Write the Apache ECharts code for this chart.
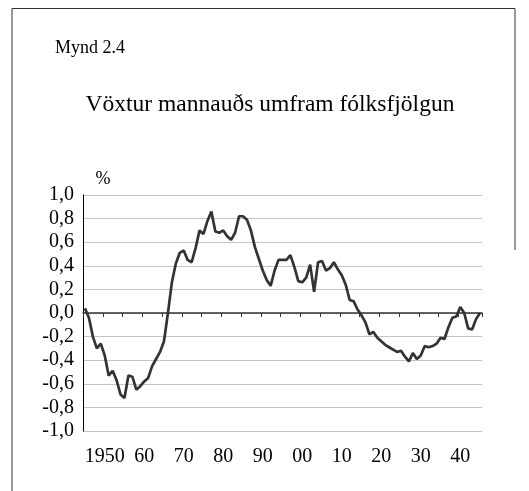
<!DOCTYPE html>
<html><head><meta charset="utf-8">
<script src="https://cdn.jsdelivr.net/npm/echarts@6/dist/echarts.min.js"></script>
<style>html,body{margin:0;padding:0;background:#fff}#c{width:529px;height:491px}</style>
</head><body><div id="c"></div>
<script>
// categories: years 1945 - 2045
const years = [];
for (let y = 1945; y <= 2045; y++) years.push(String(y));

// growth of human capital in excess of population growth, %
const values = [
  0.04, -0.04, -0.20, -0.30, -0.26,            // 1945-1949
  -0.36, -0.53, -0.49, -0.57, -0.69,           // 1950-1954
  -0.72, -0.53, -0.54, -0.65, -0.62,           // 1955-1959
  -0.58, -0.55, -0.45, -0.39, -0.33,           // 1960-1964
  -0.24, 0.00, 0.26, 0.42, 0.51,               // 1965-1969
  0.53, 0.45, 0.43, 0.55, 0.70,                // 1970-1974
  0.67, 0.78, 0.86, 0.69, 0.68,                // 1975-1979
  0.70, 0.65, 0.62, 0.68, 0.82,                // 1980-1984
  0.82, 0.79, 0.70, 0.56, 0.46,                // 1985-1989
  0.36, 0.28, 0.23, 0.36, 0.45,                // 1990-1994
  0.45, 0.45, 0.49, 0.39, 0.27,                // 1995-1999
  0.26, 0.30, 0.41, 0.18, 0.43,                // 2000-2004
  0.44, 0.36, 0.38, 0.43, 0.37,                // 2005-2009
  0.32, 0.24, 0.11, 0.10, 0.03,                // 2010-2014
  -0.02, -0.08, -0.18, -0.16, -0.21,           // 2015-2019
  -0.24, -0.27, -0.29, -0.31, -0.33,           // 2020-2024
  -0.32, -0.37, -0.41, -0.34, -0.39,           // 2025-2029
  -0.36, -0.28, -0.29, -0.28, -0.26,           // 2030-2034
  -0.21, -0.22, -0.12, -0.04, -0.03,           // 2035-2039
  0.05, 0.00, -0.13, -0.14, -0.05,             // 2040-2044
  0.00                                         // 2045
];

const xLabelYears = ['1950','1960','1970','1980','1990','2000','2010','2020','2030','2040'];
const xLabelTexts = ['1950','60','70','80','90','00','10','20','30','40'];
const yTickValues = [-1.0, -0.8, -0.6, -0.4, -0.2, 0.0, 0.2, 0.4, 0.6, 0.8, 1.0];
const yTickLabels = ['-1,0','-0,8','-0,6','-0,4','-0,2','0,0','0,2','0,4','0,6','0,8','1,0'];

const serif = '"Liberation Serif", "Times New Roman", serif';

const chart = echarts.init(document.getElementById('c'), null, {renderer: 'canvas'});
chart.setOption({
  animation: false,
  backgroundColor: '#fff',
  grid: {left: 83, right: 47, top: 195, bottom: 60, containLabel: false},
  xAxis: [{
    type: 'category', data: years, boundaryGap: true, position: 'bottom',
    axisLine: {show: true, onZero: true, lineStyle: {color: '#333', width: 1.5}},
    axisTick: {show: true, length: 4, interval: (i, v) => (+v) % 5 === 0, lineStyle: {color: '#333', width: 1}},
    axisLabel: {show: false},
    splitLine: {show: false}
  }, {
    type: 'category', data: years, boundaryGap: true, position: 'bottom',
    axisLine: {show: false, onZero: false},
    axisTick: {show: false},
    axisLabel: {
      show: true, margin: 16, fontSize: 20, fontFamily: serif, color: '#000',
      interval: (i, v) => xLabelYears.indexOf(v) >= 0,
      formatter: v => xLabelTexts[xLabelYears.indexOf(v)]
    },
    splitLine: {show: false}
  }],
  yAxis: {
    type: 'value', min: -1, max: 1, interval: 0.2,
    axisLine: {show: true, lineStyle: {color: '#000', width: 1}},
    axisTick: {show: false},
    axisLabel: {
      margin: 9, fontSize: 20, fontFamily: serif, color: '#000',
      formatter: v => {
        let best = 0;
        for (let k = 0; k < yTickValues.length; k++) if (Math.abs(yTickValues[k] - v) < Math.abs(yTickValues[best] - v)) best = k;
        return yTickLabels[best];
      }
    },
    splitLine: {show: true, lineStyle: {color: '#c4c4c4', width: 1}}
  },
  series: [{
    type: 'line', xAxisIndex: 0, data: values, showSymbol: false, symbol: 'none',
    lineStyle: {color: '#333', width: 2.7}, z: 5
  }],
  graphic: [
    {type: 'polyline', shape: {points: [[12, 491], [12, 8.5], [515, 8.5], [515, 250]]}, style: {stroke: '#333', lineWidth: 1, fill: null}},
    {type: 'text', left: 55, top: 39, style: {text: 'Mynd 2.4', font: '18px ' + serif, fill: '#000'}},
    {type: 'text', x: 270, y: 104.5, style: {text: 'Vöxtur mannauðs umfram fólksfjölgun', font: '23.5px ' + serif, fill: '#000', align: 'center', verticalAlign: 'middle'}},
    {type: 'text', x: 103, y: 179, style: {text: '%', font: '18px ' + serif, fill: '#000', align: 'center', verticalAlign: 'middle'}}
  ]
});
</script>
</body></html>
